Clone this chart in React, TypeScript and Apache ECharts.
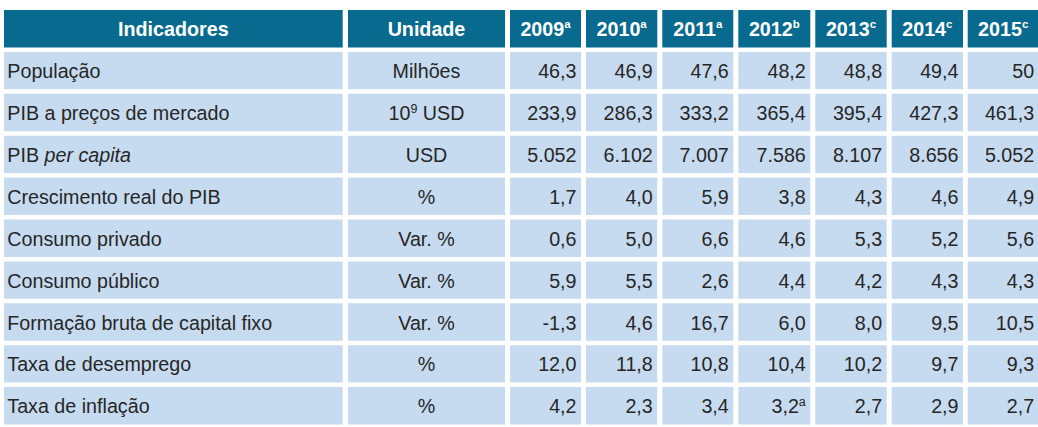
import React, { useEffect, useRef } from "react";
import * as echarts from "echarts";

// ---------- data ----------
const headerIndicadores = "Indicadores";
const headerUnidade = "Unidade";
const years = ["2009", "2010", "2011", "2012", "2013", "2014", "2015"];
const yearNotes = ["a", "a", "a", "b", "c", "c", "c"];

const indicators = [
  "População",
  "PIB a preços de mercado",
  "PIB per capita",
  "Crescimento real do PIB",
  "Consumo privado",
  "Consumo público",
  "Formação bruta de capital fixo",
  "Taxa de desemprego",
  "Taxa de inflação",
];
const units = ["Milhões", "10^9 USD", "USD", "%", "Var. %", "Var. %", "Var. %", "%", "%"];

const populacao = [46.3, 46.9, 47.6, 48.2, 48.8, 49.4, 50];
const pibMercado = [233.9, 286.3, 333.2, 365.4, 395.4, 427.3, 461.3];
const pibPerCapita = [5052, 6102, 7007, 7586, 8107, 8656, 5052];
const crescimentoPIB = [1.7, 4.0, 5.9, 3.8, 4.3, 4.6, 4.9];
const consumoPrivado = [0.6, 5.0, 6.6, 4.6, 5.3, 5.2, 5.6];
const consumoPublico = [5.9, 5.5, 2.6, 4.4, 4.2, 4.3, 4.3];
const formacaoCapital = [-1.3, 4.6, 16.7, 6.0, 8.0, 9.5, 10.5];
const desemprego = [12.0, 11.8, 10.8, 10.4, 10.2, 9.7, 9.3];
const inflacao = [4.2, 2.3, 3.4, 3.2, 2.7, 2.9, 2.7];

const rowValues = [
  populacao,
  pibMercado,
  pibPerCapita,
  crescimentoPIB,
  consumoPrivado,
  consumoPublico,
  formacaoCapital,
  desemprego,
  inflacao,
];
// format kind per row: "auto" = decimals only when needed, "thousands" = 5.052 style, "one" = one decimal
const rowFormats = ["auto", "one", "thousands", "one", "one", "one", "one", "one", "one"];
// superscript notes on single cells: [row, yearIndex, note]
const cellNotes: [number, number, string][] = [[8, 3, "a"]];

// ---------- layout ----------
const W = 1038;
const H = 427;
const colEdges: [number, number][] = [
  [4, 342.7],
  [348, 505],
  [510, 581],
  [586, 657.3],
  [662.3, 733.3],
  [738.3, 810.3],
  [815.3, 886.7],
  [891.7, 963],
  [967.7, 1038.7],
];
const HEADER_BG = "#086A8E";
const CELL_BG = "#C6DBF0";
const TEXT = "#262626";
const FONT = "'Liberation Sans', Arial, Helvetica, sans-serif";
const FS = 19.7;

function fmt(v: number, kind: string): string {
  if (kind === "thousands") {
    const s = Math.round(v).toString();
    return s.replace(/\B(?=(\d{3})+(?!\d))/g, ".");
  }
  if (kind === "auto" && Number.isInteger(v)) return String(v);
  return v.toFixed(1).replace(".", ",");
}

const rowCats = ["header", ...indicators];

type Cell = { row: number; col: number; text: string; header: boolean };

function buildCells(): Cell[] {
  const cells: Cell[] = [];
  cells.push({ row: 0, col: 0, text: `{hb|${headerIndicadores}}`, header: true });
  cells.push({ row: 0, col: 1, text: `{hb|${headerUnidade}}`, header: true });
  years.forEach((y, i) => {
    cells.push({ row: 0, col: 2 + i, text: `{hb|${y}}{hs|${yearNotes[i]}}`, header: true });
  });
  indicators.forEach((name, r) => {
    let nameText = `{n|${name}}`;
    if (name === "PIB per capita") nameText = `{n|PIB }{ni|per capita}`;
    cells.push({ row: r + 1, col: 0, text: nameText, header: false });
    const u = units[r];
    let unitText = `{n|${u}}`;
    const m = u.match(/^(\d+)\^(\d+) (.*)$/);
    if (m) unitText = `{n|${m[1]}}{s|${m[2]}}{n| ${m[3]}}`;
    cells.push({ row: r + 1, col: 1, text: unitText, header: false });
    rowValues[r].forEach((v, i) => {
      let t = `{n|${fmt(v, rowFormats[r])}}`;
      const note = cellNotes.find((c) => c[0] === r && c[1] === i);
      if (note) t += `{s|${note[2]}}`;
      cells.push({ row: r + 1, col: 2 + i, text: t, header: false });
    });
  });
  return cells;
}

const rich = {
  hb: { fontSize: FS, fontWeight: "bold", fill: "#FFFFFF", fontFamily: FONT, lineHeight: 22 },
  hs: { fontSize: 11.5, fontWeight: "bold", fill: "#FFFFFF", fontFamily: FONT, lineHeight: 11, verticalAlign: "top" },
  n: { fontSize: FS, fill: TEXT, fontFamily: FONT, lineHeight: 22 },
  ni: { fontSize: FS, fill: TEXT, fontFamily: FONT, fontStyle: "italic", lineHeight: 22 },
  s: { fontSize: 12.5, fill: TEXT, fontFamily: FONT, lineHeight: 12, verticalAlign: "top" },
};

export default function App() {
  const ref = useRef<HTMLDivElement>(null);
  useEffect(() => {
    document.body.style.margin = "0";
    if (!ref.current) return;
    const chart = echarts.init(ref.current, null, { renderer: "svg", width: W, height: H });
    const cells = buildCells();
    chart.setOption({
      animation: false,
      backgroundColor: "#FFFFFF",
      grid: { left: 0, top: 8, width: W, height: 423, containLabel: false },
      xAxis: { type: "value", min: 0, max: W, show: false },
      yAxis: { type: "category", data: rowCats, inverse: true, show: false },
      series: [
        {
          type: "custom",
          clip: false,
          data: cells.map((c) => [c.col, c.row]),
          renderItem: (params: any, api: any) => {
            const c = cells[params.dataIndex];
            const [x0, x1] = colEdges[c.col];
            const left = api.coord([x0, c.row])[0];
            const right = api.coord([x1, c.row])[0];
            const cy = api.coord([0, c.row])[1];
            const bh = api.size([0, 1])[1];
            const top = cy - bh / 2 + 2;
            const h = bh - 4.5;
            let tx: number;
            let align: string;
            if (c.header || c.col === 1) {
              tx = (left + right) / 2;
              align = "center";
            } else if (c.col === 0) {
              tx = left + 3.3;
              align = "left";
            } else {
              tx = right - 4.5;
              align = "right";
            }
            return {
              type: "group",
              children: [
                {
                  type: "rect",
                  shape: { x: left, y: top, width: right - left, height: h },
                  style: { fill: c.header ? HEADER_BG : CELL_BG },
                },
                {
                  type: "text",
                  style: {
                    text: c.text,
                    x: tx,
                    y: top + h / 2 + 0.5,
                    align,
                    verticalAlign: "middle",
                    rich,
                    fontFamily: FONT,
                    fontSize: FS,
                  },
                },
              ],
            };
          },
        },
      ],
    });
    return () => chart.dispose();
  }, []);
  return <div ref={ref} style={{ width: W, height: H }} />;
}
